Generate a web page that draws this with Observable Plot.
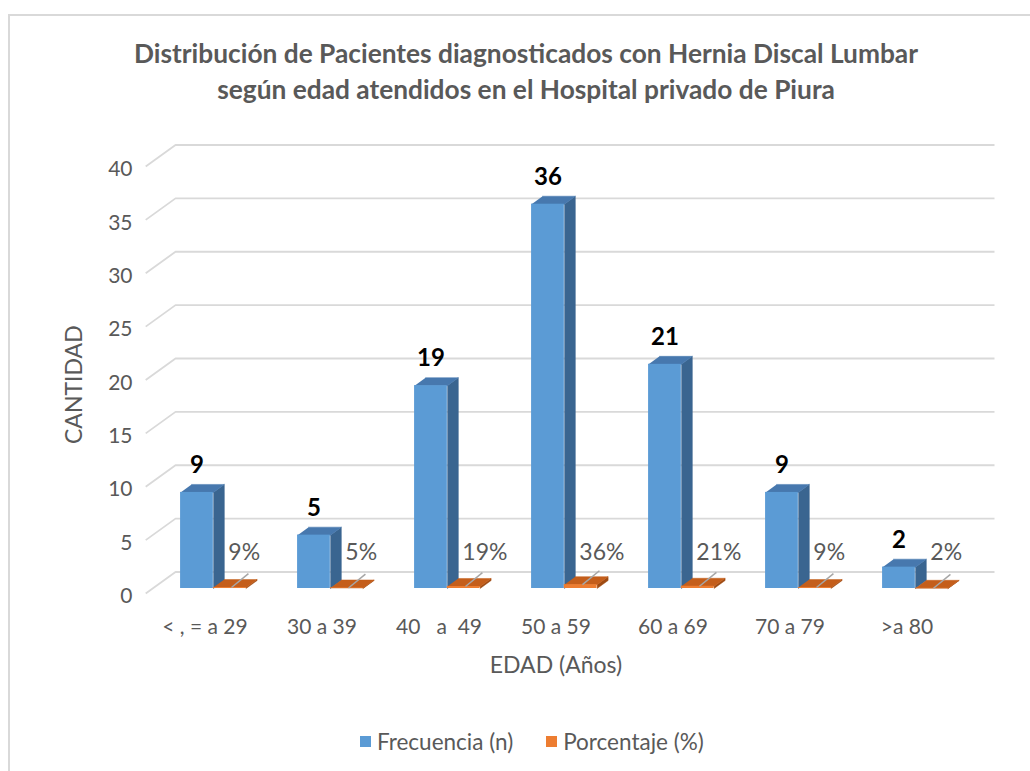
<!DOCTYPE html>
<html>
<head>
<meta charset="utf-8">
<script src="https://cdn.jsdelivr.net/npm/d3@7"></script>
<script src="https://cdn.jsdelivr.net/npm/@observablehq/plot@0.6"></script>
<style>
html, body { margin: 0; padding: 0; background: #fff; overflow: hidden; }
body { width: 1030px; height: 771px; position: relative; font-family: Lato, "Open Sans", sans-serif; }
#frame { position: absolute; left: 8px; top: 14px; width: 1020px; height: 800px;
  border-left: 2px solid #d9d9d9; border-top: 2px solid #d9d9d9; }
#title { height: 104px; box-sizing: border-box; padding-top: 19px; padding-left: 12px;
  text-align: center; font-weight: 700; font-size: 26.3px; line-height: 36px; color: #595959; }
#chart svg { display: block; }
#legend { margin-top: 30px; padding-left: 350px; display: flex; align-items: center;
  font-size: 22.5px; color: #595959; height: 22px; }
#legend .sw { width: 11px; height: 11px; display: inline-block; margin-right: 6px; }
#legend .item { display: flex; align-items: center; margin-right: 33px; }
</style>
</head>
<body>
<div id="frame">
  <div id="title">Distribución de Pacientes diagnosticados con Hernia Discal Lumbar<br>según edad atendidos en el Hospital privado de Piura</div>
  <div id="chart"></div>
  <div id="legend"></div>
</div>
<script>
// ---- data ----
const categories = ["< , = a 29", "30 a 39", "40\u00a0\u00a0 a\u00a0 49", "50 a 59", "60 a 69", "70 a 79", ">a 80"];
const frecuencia = [9, 5, 19, 36, 21, 9, 2];
const porcentaje = [0.09, 0.05, 0.19, 0.36, 0.21, 0.09, 0.02];
const yTicks = [0, 5, 10, 15, 20, 25, 30, 35, 40];
const seriesNames = ["Frecuencia (n)", "Porcentaje (%)"];
const yTitle = "CANTIDAD";
const xTitle = "EDAD (Años)";

// ---- layout ----
const W = 1020, H = 580, ML = 142, MR = 59, MT = 41, MB = 112;
const N = categories.length;
const pxX = (W - ML - MR) / N;
const pxY = (H - MT - MB) / 40;
const DX = 11 / pxX, DY = 8 / pxY;               // bar depth
const BACKX = 23 / pxX, BACKY = 16.5 / pxY;      // back wall offset
const FRONTX = -6.8 / pxX, FRONTY = -5 / pxY;    // floor front edge offset

const colors = {
  0: {front: "#5B9BD5", top: "#4778AE", side: "#3A6590"},
  1: {front: "#ED7D31", top: "#C45E1B", side: "#9E4A12"}
};

const bars = [];
categories.forEach((c, i) => {
  bars.push({cat: c, i, s: 0, x1: i + 0.24, x2: i + 0.52, v: frecuencia[i]});
  bars.push({cat: c, i, s: 1, x1: i + 0.52, x2: i + 0.80, v: porcentaje[i]});
});
function topPts(s) {
  return bars.filter(b => b.s === s).flatMap(b => [
    {id: b.i, x: b.x1, y: b.v}, {id: b.i, x: b.x2, y: b.v},
    {id: b.i, x: b.x2 + DX, y: b.v + DY}, {id: b.i, x: b.x1 + DX, y: b.v + DY}]);
}
function sidePts(s) {
  return bars.filter(b => b.s === s).flatMap(b => [
    {id: b.i, x: b.x2, y: 0}, {id: b.i, x: b.x2 + DX, y: DY},
    {id: b.i, x: b.x2 + DX, y: b.v + DY}, {id: b.i, x: b.x2, y: b.v}]);
}
const grid = yTicks.flatMap(v => [
  {v, x: FRONTX, y: v + FRONTY},
  {v, x: BACKX, y: v + BACKY},
  {v, x: N + BACKX, y: v + BACKY}]);

function barMarks(s) {
  const c = colors[s];
  return [
    Plot.line(sidePts(s), {x: "x", y: "y", z: "id", fill: c.side, stroke: c.side, strokeWidth: 0.5}),
    Plot.line(topPts(s), {x: "x", y: "y", z: "id", fill: c.top, stroke: c.top, strokeWidth: 0.5}),
    Plot.rect(bars.filter(b => b.s === s), {x1: "x1", x2: "x2", y1: () => 0, y2: "v", fill: c.front})
  ];
}

const blue = bars.filter(b => b.s === 0);
const orange = bars.filter(b => b.s === 1);

const plot = Plot.plot({
  width: W, height: H,
  marginLeft: ML, marginRight: MR, marginTop: MT, marginBottom: MB,
  style: {fontFamily: "Lato, 'Open Sans', sans-serif", color: "#595959", background: "transparent", overflow: "visible"},
  x: {type: "linear", domain: [0, N], axis: null},
  y: {domain: [0, 40], axis: null},
  marks: [
    Plot.line(grid, {x: "x", y: "y", z: "v", stroke: "#d9d9d9", strokeWidth: 1.8, strokeLinecap: "butt"}),
    Plot.text(yTicks, {y: d => d + FRONTY, frameAnchor: "left", dx: -20, dy: 3, textAnchor: "end", text: d => String(d), fontSize: 21, fill: "#595959"}),
    Plot.text(categories, {x: (d, i) => i + 0.5, frameAnchor: "bottom", dy: 39, dx: -6, lineAnchor: "middle", text: d => d, fontSize: 21, fill: "#595959"}),
    Plot.text([yTitle], {frameAnchor: "left", dx: -78, dy: 69, rotate: -90, text: d => d, fontSize: 23, fill: "#595959"}),
    Plot.text([xTitle], {frameAnchor: "bottom", dy: 77, dx: -6, lineAnchor: "middle", text: d => d, fontSize: 23, fill: "#595959"}),
    ...barMarks(0),
    ...barMarks(1),
    Plot.link(orange, {x1: d => d.x1 + 0.155, y1: "v", x2: d => d.x1 + 0.30, y2: d => d.v + 1.3, stroke: "#a6a6a6", strokeWidth: 1.5}),
    Plot.text(blue, {x: d => (d.x1 + d.x2) / 2, y: "v", dy: -27, lineAnchor: "middle", text: d => String(d.v), fontSize: 24, fontWeight: "bold", fill: "#000"}),
    Plot.text(orange, {x: "x1", y: () => 0, dx: 15, dy: -36, textAnchor: "start", lineAnchor: "middle", text: d => d3.format(".0%")(d.v), fontSize: 23, fill: "#595959"})
  ]
});
document.getElementById("chart").appendChild(plot);

const legend = document.getElementById("legend");
seriesNames.forEach((name, s) => {
  const item = document.createElement("div");
  item.className = "item";
  const sw = document.createElement("span");
  sw.className = "sw";
  sw.style.background = colors[s].front;
  item.appendChild(sw);
  item.appendChild(document.createTextNode(name));
  legend.appendChild(item);
});
</script>
</body>
</html>
